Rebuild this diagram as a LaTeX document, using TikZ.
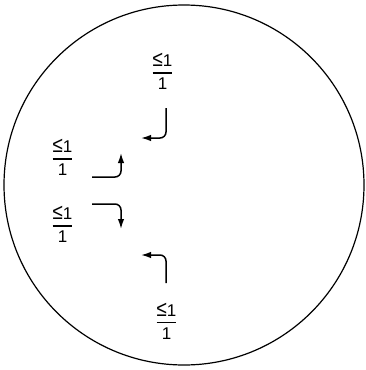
\documentclass[tikz,border=0pt]{standalone}
\usepackage{graphicx}
\usepackage{fontspec}
\setmainfont{Liberation Sans}
\usetikzlibrary{arrows.meta}
\setlength{\arrayrulewidth}{1.2pt}
\newcommand{\lebound}{\begin{tabular}{@{}c@{}}\scalebox{1.1}[1.3]{≤}1\\\hline\rule{0pt}{16pt}1\end{tabular}}

\begin{document}
\begin{tikzpicture}[
          x=1pt, y=-1pt,
          lbl/.style={inner sep=0pt, font=\fontsize{17}{20.4}\selectfont},
          arr/.style={-{Latex[length=10pt, width=6.5pt]}, line width=1.5pt, rounded corners=6pt}]
          \useasboundingbox (0,0) rectangle (365,370);
          \draw[line width=1.2pt] (184,185) circle[radius=180];
          % bounds
          \node[lbl] (topb)   at (162.5,73.9)  {\lebound};
          \node[lbl] (lefta)  at (62.5,159.9)  {\lebound};
          \node[lbl] (leftb)  at (62.5,226.9)  {\lebound};
          \node[lbl] (botb)   at (166.5,323.6) {\lebound};
          % arrow ends
          \coordinate (t0) at (166,108); \coordinate (t1) at (141,138);
          \coordinate (a0) at (92,177);  \coordinate (a1) at (121,153);
          \coordinate (b0) at (92,204);  \coordinate (b1) at (121,229);
          \coordinate (d0) at (166,283); \coordinate (d1) at (141,255);
          \draw[arr] (t0) |- (t1);
          \draw[arr] (a0) -| (a1);
          \draw[arr] (b0) -| (b1);
          \draw[arr] (d0) |- (d1);
        \end{tikzpicture}
\end{document}
